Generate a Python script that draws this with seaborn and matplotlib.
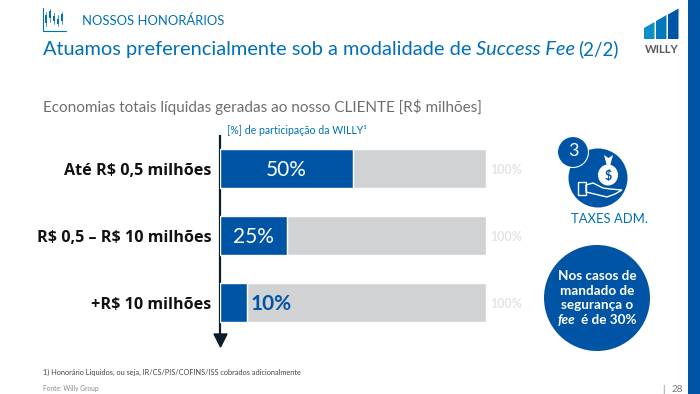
import matplotlib
matplotlib.use('Agg')
import matplotlib.pyplot as plt
from matplotlib.patches import Circle, Polygon, Rectangle, Ellipse
import pandas as pd
import seaborn as sns

# values
faixas = ['Até R\\$ 0,5 milhões', 'R\\$ 0,5 – R\\$ 10 milhões', '+R\\$ 10 milhões']
participacao = [50, 25, 10]
total = [100, 100, 100]
rotulos = ['50%', '25%', '10%']
rotulos_total = ['100%', '100%', '100%']

azul = '#0054A6'
azul_claro = '#0070B8'
cinza = '#D0D2D3'

sns.set_theme(style='white')
plt.rcParams['font.family'] = ['Lato', 'DejaVu Sans']

df = pd.DataFrame({'faixa': faixas, 'part': participacao, 'total': total})

fig = plt.figure(figsize=(7, 3.94), dpi=100, facecolor='white')

# overlay in pixel coords for the slide furniture
bg = fig.add_axes([0, 0, 1, 1])
bg.set_xlim(0, 700)
bg.set_ylim(394, 0)
bg.axis('off')

# chart axes: 0-100 runs 220..486 px, arrow runs 135..347 px
ax = fig.add_axes([220 / 700, 1 - 347 / 394, 266 / 700, 212 / 394])
ax.patch.set_alpha(0)
sns.barplot(data=df, y='faixa', x='total', color=cinza, saturation=1, width=0.58, ax=ax)
sns.barplot(data=df, y='faixa', x='part', color=azul, saturation=1, width=0.58, ax=ax)
ax.set_xlim(0, 100)
ax.set_ylim(2.664, -0.5)
ax.set_xlabel('')
ax.set_ylabel('')
ax.set_xticks([])
ax.tick_params(axis='y', length=0, pad=6)
for lab in ax.get_yticklabels():
    lab.set_fontsize(11.6)
    lab.set_fontweight('bold')
    lab.set_fontfamily(['Open Sans', 'DejaVu Sans'])
    lab.set_color('#111111')
sns.despine(ax=ax, left=True, bottom=True, right=True, top=True)

# thin white edge between blue and grey
for i, v in enumerate(participacao):
    ax.plot([v, v], [i - 0.29, i + 0.29], color='white', lw=0.8)
    ax.text(101.5, i + 0.02, rotulos_total[i], color='#E3E4E5', fontsize=9,
            fontweight='bold', va='center', ha='left')
ax.text(25, 0.02, rotulos[0], color='white', fontsize=15, ha='center', va='center')
ax.text(12.4, 1.02, rotulos[1], color='white', fontsize=15, ha='center', va='center')
ax.text(11.5, 2.02, rotulos[2], color=azul, fontsize=15, fontweight='bold', ha='left', va='center')

# arrow on the category axis
bg.plot([220, 220], [135, 338], color='#0B1C2C', lw=1.6, solid_capstyle='butt')
bg.add_patch(Polygon([[214, 334], [227, 334], [220.5, 347]], color='#0B1C2C'))

# side stripe
bg.add_patch(Rectangle((688, 0), 12, 394, color=azul, lw=0))


def txt(x, y, s, **kw):
    kw.setdefault('va', 'center')
    return bg.text(x, y, s, **kw)


# header
txt(82, 20.5, 'NOSSOS HONORÁRIOS', color=azul_claro, fontsize=9.4)
txt(43, 49.5, 'Atuamos preferencialmente sob a modalidade de', color=azul_claro, fontsize=14.4)
txt(476, 49.5, 'Success Fee', color=azul_claro, fontsize=14.4, style='italic')
txt(578, 49.5, '(2/2)', color=azul_claro, fontsize=13.5)
txt(43, 106.5, 'Economias totais líquidas geradas ao nosso CLIENTE [R\\$ milhões]', color='#6D6E70', fontsize=11)
txt(227, 130, '[%] de participação da WILLY¹', color=azul_claro, fontsize=7.6)

# candlestick icon
bg.plot([42.5, 42.5, 66], [8, 30.5, 30.5], color=azul_claro, lw=0.8)
for x, y0, y1, b0, b1 in [(46, 12, 26, 15, 23), (50, 9, 22, 11, 18), (54, 13, 24, 16, 21),
                          (58, 15, 26, 19, 24), (62, 12, 24, 14, 21)]:
    bg.plot([x, x], [y0, y1], color=azul_claro, lw=0.5)
    bg.add_patch(Rectangle((x - 1, b0), 2, b1 - b0, color=azul_claro, lw=0))

# logo
for x0, top0, top1, c in [(644, 28, 22, '#0A8FC7'), (656, 21, 15, '#0578BC'), (668, 14.5, 8.5, azul)]:
    bg.add_patch(Polygon([[x0, top0], [x0 + 10.5, top1], [x0 + 10.5, 39], [x0, 39]], color=c, lw=0))
txt(661.5, 49, 'WILLY', color='#58595B', fontsize=8, fontweight='bold', ha='center')

# money bag icon
bg.add_patch(Circle((598, 178), 29.5, color=azul, lw=0))
bg.add_patch(Circle((573, 152), 15.5, facecolor=azul, edgecolor='white', lw=0.8))
txt(573, 151, '3', color='white', fontsize=13, ha='center')
bg.add_patch(Ellipse((608, 175), 20, 21, color='white', lw=0))
bg.add_patch(Polygon([[604, 155], [608.5, 158], [613, 155], [610, 166], [607, 166]], color='white', lw=0))
txt(608, 176, '\\$', color=azul, fontsize=9, fontweight='bold', ha='center')
bg.add_patch(Rectangle((578, 182), 8, 13, facecolor='none', edgecolor='white', lw=1))
bg.add_patch(Polygon([[586, 185], [593, 183], [603, 188], [610, 189], [622, 190], [615, 194], [607, 197], [586, 192]],
                     facecolor='none', edgecolor='white', lw=1))
txt(609.5, 219, 'TAXES ADM.', color=azul_claro, fontsize=9.4, ha='center')

# note circle
bg.add_patch(Circle((597, 298), 53, color=azul, lw=0))
nota = ['Nos casos de', 'mandado de', 'segurança o']
for i, linha in enumerate(nota):
    txt(597, 276.5 + 14.4 * i, linha, color='white', fontsize=9.7, fontweight='bold', ha='center')
txt(558, 319.5, 'fee', color='white', fontsize=9.7, fontweight='bold', style='italic')
txt(581, 319.5, 'é de 30%', color='white', fontsize=9.7, fontweight='bold')

# footnotes
txt(43, 372, '1) Honorário Líquidos, ou seja, IR/CS/PIS/COFINS/ISS cobrados adicionalmente', color='#444444', fontsize=5.3)
txt(43, 389, 'Fonte: Willy Group', color='#8A8A8A', fontsize=4.8)
txt(662, 389, '|', color='#777777', fontsize=6.5)
txt(671, 389, '28', color='#777777', fontsize=7)

fig.savefig('out.png', dpi=100)
